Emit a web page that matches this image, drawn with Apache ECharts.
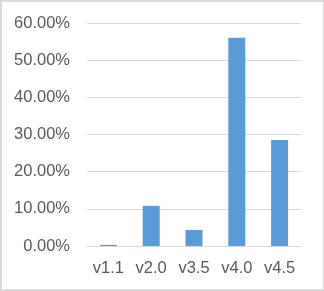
<!DOCTYPE html>
<html>
<head>
<meta charset="utf-8">
<script src="https://cdn.jsdelivr.net/npm/echarts@6/dist/echarts.min.js"></script>
<style>
html,body{margin:0;padding:0;background:#fff;}
#wrap{position:relative;width:324px;height:291px;}
#chart{width:324px;height:291px;}
#frame{position:absolute;left:0;top:0;width:324px;height:291px;box-sizing:border-box;border:2px solid #d9d9d9;border-right-width:1px;pointer-events:none;}
</style>
</head>
<body>
<div id="wrap"><div id="chart"></div><div id="frame"></div></div>
<script>
const categories = ['v1.1', 'v2.0', 'v3.5', 'v4.0', 'v4.5'];
const values = [0.3, 10.8, 4.3, 56.0, 28.5];
const yMin = 0, yMax = 60, yStep = 10;

const chart = echarts.init(document.getElementById('chart'), null, {renderer: 'canvas'});
const font = 'Liberation Sans';
chart.setOption({
  animation: false,
  backgroundColor: '#ffffff',
  grid: {left: 87, right: 23, top: 23, bottom: 45, containLabel: false},
  xAxis: {
    type: 'category',
    data: categories,
    axisLine: {show: true, lineStyle: {color: '#d9d9d9', width: 1}},
    axisTick: {show: false},
    axisLabel: {color: '#595959', fontFamily: font, fontSize: 16.5, margin: 14}
  },
  yAxis: {
    type: 'value',
    min: yMin, max: yMax, interval: yStep,
    axisLine: {show: false},
    axisTick: {show: false},
    splitLine: {show: true, lineStyle: {color: '#d9d9d9', width: 1}},
    axisLabel: {
      color: '#595959', fontFamily: font, fontSize: 16.5, margin: 17,
      formatter: v => v.toFixed(2) + '%'
    }
  },
  series: [{
    type: 'bar',
    data: values,
    barWidth: 17,
    itemStyle: {color: '#5b9bd5'}
  }]
});
</script>
</body>
</html>
